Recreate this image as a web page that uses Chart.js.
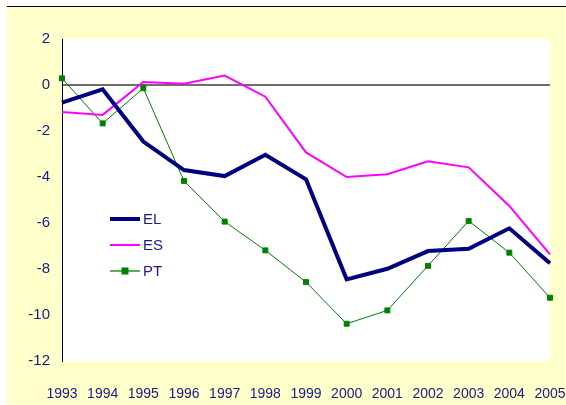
<!DOCTYPE html>
<html>
<head>
<meta charset="utf-8">
<script src="https://cdn.jsdelivr.net/npm/chart.js@4"></script>
<style>
  html, body { margin: 0; padding: 0; background: #fff; }
  #wrap { position: absolute; left: 7px; top: 6px; width: 559px; height: 399px;
          background: #ffffcc; border-top: 1px solid #000; }
  canvas { display: block; }
</style>
</head>
<body>
<div id="wrap"><canvas id="chart" width="559" height="398"></canvas></div>
<script>
const years = ['1993','1994','1995','1996','1997','1998','1999','2000','2001','2002','2003','2004','2005'];
const elValues = [-0.77, -0.19, -2.46, -3.70, -3.96, -3.03, -4.10, -8.45, -7.99, -7.22, -7.12, -6.23, -7.75];
const esValues = [-1.17, -1.30, 0.13, 0.05, 0.41, -0.51, -2.93, -4.00, -3.88, -3.32, -3.58, -5.26, -7.36];
const ptValues = [0.29, -1.67, -0.14, -4.17, -5.94, -7.19, -8.57, -10.38, -9.80, -7.86, -5.91, -7.29, -9.25];
const yTicks = [2, 0, -2, -4, -6, -8, -10, -12];

const navy = '#1a1a80';
const labelFont = { family: '"Liberation Sans", Arial, sans-serif', size: 14 };
const yFont = { family: '"Liberation Sans", Arial, sans-serif', size: 15 };

// fondo blanco del area de trazado
const plotBg = {
    id: 'plotBg',
    beforeDraw(chart) {
        const a = chart.chartArea;
        chart.ctx.save();
        chart.ctx.fillStyle = '#ffffff';
        chart.ctx.fillRect(a.left, a.top, a.right - a.left, a.bottom - a.top);
        chart.ctx.restore();
    }
};

// leyenda dibujada dentro del area del grafico
const legendInside = {
    id: 'legendInside',
    afterDraw(chart) {
        const ctx = chart.ctx;
        const a = chart.chartArea;
        const x0 = a.left + 48, x1 = a.left + 78;
        const rows = [a.top + 180, a.top + 206, a.top + 232];
        ctx.save();
        ctx.font = `${yFont.size}px ${yFont.family}`;
        ctx.textBaseline = 'middle';
        chart.data.datasets.forEach((ds, i) => {
            const y = rows[i];
            ctx.strokeStyle = i === 2 ? '#5aad5a' : ds.borderColor;
            ctx.lineWidth = i === 2 ? 2 : ds.borderWidth;
            ctx.beginPath();
            ctx.moveTo(x0, y);
            ctx.lineTo(x1, y);
            ctx.stroke();
            if (i === 2) {
                ctx.fillStyle = ds.pointBackgroundColor;
                ctx.fillRect((x0 + x1) / 2 - 3.5, y - 3.5, 7, 7);
            }
            ctx.fillStyle = navy;
            ctx.fillText(ds.label, x1 + 3, y + 1);
        });
        ctx.restore();
    }
};

new Chart(document.getElementById('chart'), {
    type: 'line',
    data: {
        labels: years,
        datasets: [
            { label: 'EL', data: elValues, borderColor: '#000080', borderWidth: 4,
              pointRadius: 0, tension: 0 },
            { label: 'ES', data: esValues, borderColor: '#ff00ff', borderWidth: 2,
              pointRadius: 0, tension: 0 },
            { label: 'PT', data: ptValues, borderColor: '#008000', borderWidth: 1,
              pointStyle: 'rect', pointRadius: 3.5, pointBackgroundColor: '#008000',
              pointBorderColor: '#008000', tension: 0 }
        ]
    },
    options: {
        responsive: false,
        animation: false,
        clip: false,
        layout: { padding: { top: 32, right: 0, left: 0, bottom: 0 } },
        plugins: { legend: { display: false }, tooltip: { enabled: false } },
        scales: {
            x: {
                offset: false,
                grid: { display: false },
                border: { display: false },
                ticks: { color: navy, font: labelFont, padding: 17, maxRotation: 0, autoSkip: false },
                afterFit: (s) => { s.height = 44; s.paddingLeft = 0; s.paddingRight = 16; }
            },
            y: {
                min: -12, max: 2,
                afterBuildTicks: (s) => { s.ticks = yTicks.map(v => ({ value: v })); },
                grid: {
                    color: (c) => c.tick && c.tick.value === 0 ? '#6e6e6e' : 'rgba(0,0,0,0)',
                    lineWidth: 2,
                    drawTicks: false
                },
                border: { display: true, color: '#000', width: 1 },
                ticks: { color: navy, font: yFont, padding: 12 },
                afterFit: (s) => { s.width = 55; }
            }
        }
    },
    plugins: [plotBg, legendInside]
});
</script>
</body>
</html>
